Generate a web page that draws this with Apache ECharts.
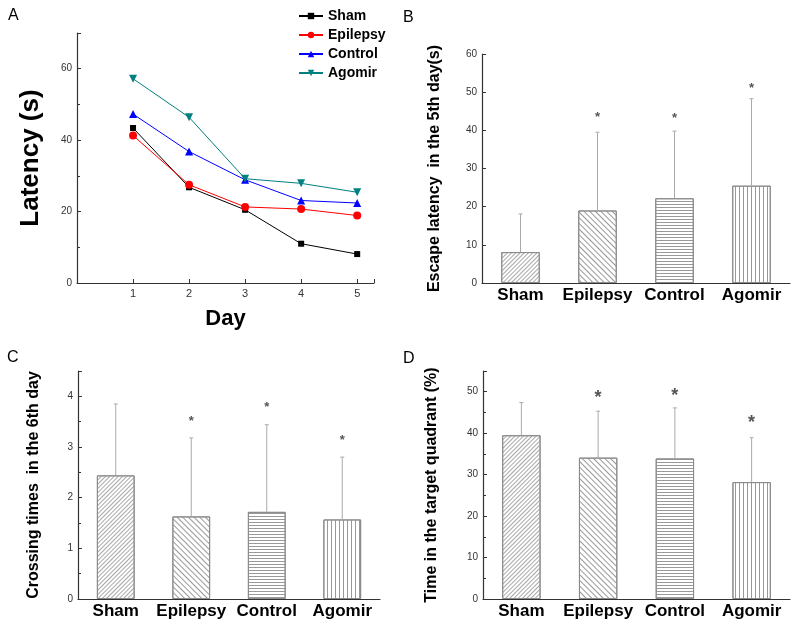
<!DOCTYPE html>
<html><head><meta charset="utf-8">
<script src="https://cdn.jsdelivr.net/npm/echarts@6/dist/echarts.min.js"></script>
<style>html,body{margin:0;padding:0;background:#fff}#c{width:800px;height:631px}</style>
</head><body><div id="c"></div>
<script>
// ---- Panel A data ----
const days = [1, 2, 3, 4, 5];
const lineNames = ['Sham', 'Epilepsy', 'Control', 'Agomir'];
const shamLatency = [43.4, 26.8, 20.5, 11.0, 8.1];
const epilepsyLatency = [41.3, 27.5, 21.3, 20.7, 18.9];
const controlLatency = [47.3, 36.8, 28.9, 23.1, 22.4];
const agomirLatency = [57.2, 46.4, 29.2, 27.9, 25.4];

// ---- Bar panels ----
const groups = ['Sham', 'Epilepsy', 'Control', 'Agomir'];
const escapeMean = [8.1, 19.0, 22.2, 25.5];
const escapeErrTop = [18.1, 39.5, 39.8, 48.3];
const escapeStar = [null, 44.3, 44.0, 52.0];
const crossMean = [2.44, 1.63, 1.72, 1.57];
const crossErrTop = [3.85, 3.18, 3.44, 2.80];
const crossStar = [null, 3.58, 3.85, 3.20];
const quadMean = [39.5, 34.1, 33.9, 28.2];
const quadErrTop = [47.4, 45.3, 46.1, 38.9];
const quadStar = [null, 49.8, 50.2, 43.6];

const FONT = 'Arial, "Liberation Sans", sans-serif';
const chart = echarts.init(document.getElementById('c'));

const decals = [
  {symbol: 'rect', symbolSize: 1, dashArrayX: [1, 0], dashArrayY: [1, 2], rotation: -Math.PI / 4, color: '#a8a8a8'},
  {symbol: 'rect', symbolSize: 1, dashArrayX: [1, 0], dashArrayY: [1, 3], rotation: Math.PI / 4, color: '#999999'},
  {symbol: 'rect', symbolSize: 1, dashArrayX: [1, 0], dashArrayY: [1, 2], rotation: 0, color: '#999999'},
  {symbol: 'rect', symbolSize: 1, dashArrayX: [1, 0], dashArrayY: [1, 3], rotation: Math.PI / 2, color: '#999999'}
];

const axisLineStyle = {show: true, lineStyle: {color: '#333', width: 1.2}};
const tickLabel = {color: '#333', fontSize: 10, fontFamily: FONT, margin: 5};

function valueY(gi, max, interval, name, gap, minor, nameSize, showMax) {
  return {
    type: 'value', gridIndex: gi, min: 0, max: max, interval: interval,
    name: name, nameLocation: 'middle', nameGap: gap,
    nameTextStyle: {fontSize: nameSize || 16, fontWeight: 'bold', color: '#000', fontFamily: FONT},
    axisLine: axisLineStyle,
    axisTick: {show: true, inside: true, length: 4, lineStyle: {color: '#333'}},
    minorTick: {show: minor, splitNumber: 2, length: 3, lineStyle: {color: '#333'}},
    axisLabel: Object.assign({showMaxLabel: !!showMax}, tickLabel),
    splitLine: {show: false}
  };
}
function catX(gi) {
  return {
    type: 'category', gridIndex: gi, data: groups,
    axisLine: axisLineStyle, axisTick: {show: false},
    axisLabel: {color: '#000', fontSize: 17, fontWeight: 'bold', fontFamily: FONT, margin: 4, interval: 0},
    splitLine: {show: false}
  };
}
function barSeries(idx, means) {
  return {
    type: 'bar', xAxisIndex: idx, yAxisIndex: idx, barWidth: '50%', z: 2,
    itemStyle: {color: '#fff', borderColor: '#8a8a8a', borderWidth: 1},
    data: means.map((v, i) => ({value: v, itemStyle: {decal: decals[i]}}))
  };
}
function errSeries(idx, means, tops) {
  return {
    type: 'custom', xAxisIndex: idx, yAxisIndex: idx, z: 3,
    data: groups.map((g, i) => [i, means[i], tops[i]]),
    renderItem(params, api) {
      const lo = api.coord([api.value(0), api.value(1)]);
      const hi = api.coord([api.value(0), api.value(2)]);
      return {type: 'group', children: [
        {type: 'line', shape: {x1: lo[0], y1: lo[1], x2: hi[0], y2: hi[1]}, style: {stroke: '#aaa', lineWidth: 1}},
        {type: 'line', shape: {x1: hi[0] - 2, y1: hi[1], x2: hi[0] + 2, y2: hi[1]}, style: {stroke: '#aaa', lineWidth: 1}}
      ]};
    }
  };
}
function starSeries(idx, stars, size) {
  return {
    type: 'custom', xAxisIndex: idx, yAxisIndex: idx, z: 4,
    data: groups.map((g, i) => [i, stars[i]]).filter(d => d[1] != null),
    renderItem(params, api) {
      const p = api.coord([api.value(0), api.value(1)]);
      return {type: 'text', x: p[0], y: p[1] + size * 0.28,
        style: {text: '*', fill: '#555', font: 'bold ' + size + 'px ' + FONT, align: 'center', verticalAlign: 'middle'}};
    }
  };
}

const lineColors = ['#000000', '#ff0000', '#0000ff', '#008080'];
const lineSymbols = ['rect', 'circle', 'triangle', 'triangle'];
const lineData = [shamLatency, epilepsyLatency, controlLatency, agomirLatency];

const option = {
  backgroundColor: '#fff',
  animation: false,
  grid: [
    {left: 77, top: 33, width: 297, height: 250},
    {left: 482, top: 54, width: 308, height: 229},
    {left: 78, top: 371, width: 302, height: 228},
    {left: 483, top: 371, width: 307, height: 228}
  ],
  legend: {
    left: 298, top: 8, padding: 0, orient: 'vertical', itemGap: 3, itemWidth: 24, itemHeight: 8,
    data: lineNames,
    itemStyle: {borderWidth: 0},
    textStyle: {fontSize: 14, fontWeight: 'bold', color: '#000', fontFamily: FONT, lineHeight: 16}
  },
  graphic: [
    {type: 'text', left: 8, top: 8, style: {text: 'A', font: '16px ' + FONT, fill: '#000'}},
    {type: 'text', left: 403, top: 10, style: {text: 'B', font: '16px ' + FONT, fill: '#000'}},
    {type: 'text', left: 7, top: 350, style: {text: 'C', font: '16px ' + FONT, fill: '#000'}},
    {type: 'text', left: 403, top: 351, style: {text: 'D', font: '16px ' + FONT, fill: '#000'}}
  ],
  xAxis: [
    {type: 'value', gridIndex: 0, min: 0, max: 5.3, interval: 1,
     name: 'Day', nameLocation: 'middle', nameGap: 25,
     nameTextStyle: {fontSize: 22, fontWeight: 'bold', color: '#000', fontFamily: FONT, verticalAlign: 'top'},
     axisLine: axisLineStyle,
     axisTick: {show: true, inside: true, length: 4, lineStyle: {color: '#333'}},
     axisLabel: Object.assign({}, tickLabel, {fontSize: 11, formatter: v => (v >= 1 && v <= 5) ? String(v) : ''}),
     splitLine: {show: false}},
    catX(1), catX(2), catX(3)
  ],
  yAxis: [
    valueY(0, 70, 20, 'Latency (s)', 33, true, 26),
    valueY(1, 60, 10, 'Escape latency  in the 5th day(s)', 39, false, 16, true),
    valueY(2, 4.5, 1, 'Crossing times  in the 6th day', 36, true),
    valueY(3, 55, 10, 'Time in the target quadrant (%)', 43, true)
  ],
  series: [
    ...lineNames.map((n, k) => ({
      name: n, type: 'line', xAxisIndex: 0, yAxisIndex: 0,
      data: days.map((d, i) => [d, lineData[k][i]]),
      symbol: lineSymbols[k], symbolSize: k === 0 ? 6 : 8, symbolRotate: k === 3 ? 180 : 0,
      itemStyle: {color: lineColors[k]}, lineStyle: {color: lineColors[k], width: 1}
    })),
    barSeries(1, escapeMean), errSeries(1, escapeMean, escapeErrTop), starSeries(1, escapeStar, 13),
    barSeries(2, crossMean), errSeries(2, crossMean, crossErrTop), starSeries(2, crossStar, 13),
    barSeries(3, quadMean), errSeries(3, quadMean, quadErrTop), starSeries(3, quadStar, 18)
  ]
};
chart.setOption(option);
</script></body></html>
